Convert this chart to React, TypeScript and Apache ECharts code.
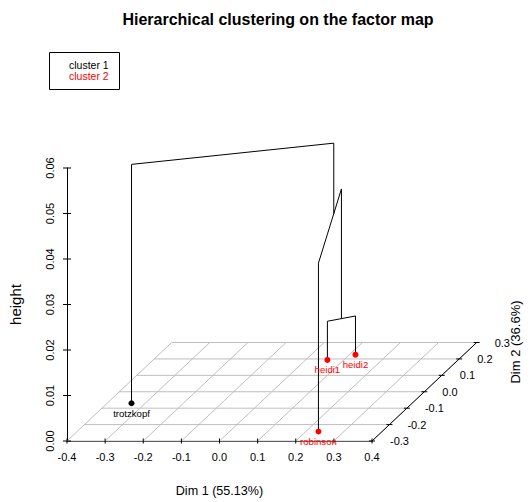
import React, { useEffect, useRef } from "react";
import * as echarts from "echarts";

// ---- data ----
const dim1Ticks = [-0.4, -0.3, -0.2, -0.1, 0.0, 0.1, 0.2, 0.3, 0.4];
const dim2Ticks = [-0.3, -0.2, -0.1, 0.0, 0.1, 0.2, 0.3];
const heightTicks = [0, 0.01, 0.02, 0.03, 0.04, 0.05, 0.06];

const individuals = ["trotzkopf", "heidi1", "heidi2", "robinson"];
const dim1 = [-0.336, 0.057, 0.116, 0.233];
const dim2 = [-0.07, 0.194, 0.226, -0.242];
const cluster = [1, 2, 2, 2];

// hclust-like merges: negative = leaf (1-based), positive = earlier merge
const mergeLeft = [-2, -4, -1];
const mergeRight = [-3, 1, 2];
const mergeHeight = [0.0085, 0.037, 0.0525];

const clusterNames = ["cluster 1", "cluster 2"];
const clusterColors = ["#000000", "#FF0000"];

const FONT = "Liberation Sans, Arial, Helvetica, sans-serif";

// oblique projection of the Dim 2 axis onto the (Dim 1, height) plane
const K1 = 0.4575; // Dim1 units per Dim2 unit
const K2 = 0.03607; // height units per Dim2 unit
const Y0 = dim2Ticks[0];
const proj = (x: number, y: number, z: number) => [x + (y - Y0) * K1, z + (y - Y0) * K2];

// floor grid segments [x1,y1,z1,x2,y2,z2]
const floorSegs: number[][] = [];
dim2Ticks.forEach((y) => floorSegs.push([dim1Ticks[0], y, 0, dim1Ticks[dim1Ticks.length - 1], y, 0]));
dim1Ticks.forEach((x) => floorSegs.push([x, dim2Ticks[0], 0, x, dim2Ticks[dim2Ticks.length - 1], 0]));

const dim2AxisSeg = [[dim1Ticks[dim1Ticks.length - 1], dim2Ticks[0], 0, dim1Ticks[dim1Ticks.length - 1], dim2Ticks[dim2Ticks.length - 1], 0]];

// dendrogram segments
type Node = { x: number; y: number; h: number; n: number };
const nodes: Node[] = [];
const getNode = (id: number): Node =>
  id < 0 ? { x: dim1[-id - 1], y: dim2[-id - 1], h: 0, n: 1 } : nodes[id - 1];
const treeSegs: number[][] = [];
mergeLeft.forEach((l, i) => {
  const a = getNode(l);
  const b = getNode(mergeRight[i]);
  const h = mergeHeight[i];
  treeSegs.push([a.x, a.y, a.h, a.x, a.y, h]);
  treeSegs.push([b.x, b.y, b.h, b.x, b.y, h]);
  treeSegs.push([a.x, a.y, h, b.x, b.y, h]);
  const n = a.n + b.n;
  nodes.push({ x: (a.x * a.n + b.x * b.n) / n, y: (a.y * a.n + b.y * b.n) / n, h, n });
});

const segRenderer = (color: string) => (params: any, api: any) => {
  const p1 = api.coord(proj(api.value(0), api.value(1), api.value(2)));
  const p2 = api.coord(proj(api.value(3), api.value(4), api.value(5)));
  return {
    type: "line",
    shape: { x1: p1[0], y1: p1[1], x2: p2[0], y2: p2[1] },
    style: { stroke: color, lineWidth: 1 },
  };
};

export default function App() {
  const ref = useRef<HTMLDivElement>(null);
  useEffect(() => {
    if (!ref.current) return;
    const chart = echarts.init(ref.current, null, { renderer: "svg" });
    const option: any = {
      animation: false,
      backgroundColor: "#ffffff",
      title: {
        text: "Hierarchical clustering on the factor map",
        left: 278,
        top: 11,
        padding: 0,
        textAlign: "center",
        textStyle: { fontSize: 16, fontWeight: "bold", fontFamily: FONT, color: "#000" },
      },
      grid: { left: 67, right: 159, top: 168, bottom: 55 },
      xAxis: {
        type: "value",
        min: -0.4,
        max: 0.4,
        interval: 0.1,
        axisLine: { show: true, onZero: false, lineStyle: { color: "#000", width: 1 } },
        axisTick: { show: false },
        splitLine: { show: false },
        axisLabel: {
          color: "#000",
          fontSize: 11,
          fontFamily: FONT,
          margin: 10,
          formatter: (v: number) => v.toFixed(1),
        },
        name: "Dim 1 (55.13%)",
        nameLocation: "middle",
        nameGap: 43,
        nameTextStyle: { color: "#000", fontSize: 12.6, fontFamily: FONT },
      },
      yAxis: {
        type: "value",
        min: 0,
        max: 0.06,
        interval: 0.01,
        axisLine: { show: true, onZero: false, lineStyle: { color: "#000", width: 1 } },
        axisTick: { show: false },
        splitLine: { show: false },
        axisLabel: {
          color: "#000",
          fontSize: 11,
          fontFamily: FONT,
          rotate: 90,
          margin: 12,
          formatter: (v: number) => v.toFixed(2),
        },
        name: "height",
        nameLocation: "middle",
        nameRotate: 90,
        nameGap: 44,
        nameTextStyle: { color: "#000", fontSize: 15, fontFamily: FONT },
      },
      graphic: [
        {
          type: "rect",
          shape: { x: 49.5, y: 52.5, width: 70, height: 37 },
          style: { fill: "#fff", stroke: "#000", lineWidth: 1 },
        },
        {
          type: "text",
          x: 69,
          y: 64.5,
          style: { text: clusterNames[0], fill: clusterColors[0], font: `10.5px ${FONT}`, textVerticalAlign: "middle", verticalAlign: "middle" },
        },
        {
          type: "text",
          x: 69,
          y: 76,
          style: { text: clusterNames[1], fill: clusterColors[1], font: `10.5px ${FONT}`, textVerticalAlign: "middle", verticalAlign: "middle" },
        },
        {
          type: "text",
          x: 515,
          y: 342,
          rotation: Math.PI / 2,
          style: {
            text: "Dim 2 (36.6%)",
            fill: "#000",
            font: `13px ${FONT}`,
            textAlign: "center",
            align: "center",
            textVerticalAlign: "middle",
            verticalAlign: "middle",
          },
        },
      ],
      series: [
        {
          type: "custom",
          name: "floor",
          silent: true,
          clip: false,
          data: floorSegs,
          renderItem: segRenderer("#BEBEBE"),
          z: 1,
        },
        {
          type: "custom",
          name: "dim2axis",
          silent: true,
          clip: false,
          data: dim2AxisSeg,
          renderItem: segRenderer("#000000"),
          z: 2,
        },
        {
          type: "custom",
          name: "dim2ticks",
          silent: true,
          clip: false,
          data: dim2Ticks,
          renderItem: (params: any, api: any) => {
            const v = api.value(0);
            const p = api.coord(proj(dim1Ticks[dim1Ticks.length - 1], v, 0));
            return {
              type: "group",
              children: [
                {
                  type: "line",
                  shape: { x1: p[0] - 3, y1: p[1], x2: p[0] + 3, y2: p[1] },
                  style: { stroke: "#000", lineWidth: 1 },
                },
                {
                  type: "text",
                  x: p[0] + 18,
                  y: p[1],
                  style: {
                    text: v.toFixed(1),
                    fill: "#000",
                    font: `11px ${FONT}`,
                    textAlign: "left",
                    align: "left",
                    textVerticalAlign: "middle",
                    verticalAlign: "middle",
                  },
                },
              ],
            };
          },
          z: 2,
        },
        {
          type: "custom",
          name: "xticks",
          silent: true,
          clip: false,
          data: dim1Ticks,
          renderItem: (params: any, api: any) => {
            const p = api.coord([api.value(0), 0]);
            return {
              type: "line",
              shape: { x1: p[0], y1: p[1] - 2.5, x2: p[0], y2: p[1] + 2.5 },
              style: { stroke: "#000", lineWidth: 1 },
            };
          },
          z: 2,
        },
        {
          type: "custom",
          name: "zticks",
          silent: true,
          clip: false,
          data: heightTicks.map((h) => [dim1Ticks[0], h]),
          renderItem: (params: any, api: any) => {
            const p = api.coord([api.value(0), api.value(1)]);
            return {
              type: "line",
              shape: { x1: p[0] - 4, y1: p[1], x2: p[0] + 4, y2: p[1] },
              style: { stroke: "#000", lineWidth: 1 },
            };
          },
          z: 2,
        },
        {
          type: "custom",
          name: "tree",
          silent: true,
          clip: false,
          data: treeSegs,
          renderItem: segRenderer("#000000"),
          z: 3,
        },
        ...clusterNames.map((cn, ci) => ({
          type: "scatter",
          name: cn,
          silent: true,
          clip: false,
          symbol: "circle",
          symbolSize: 6,
          itemStyle: { color: clusterColors[ci], opacity: 1 },
          label: {
            show: true,
            position: "bottom",
            distance: 2,
            color: clusterColors[ci],
            fontSize: 9.6,
            fontFamily: FONT,
            formatter: (p: any) => p.data[2],
          },
          data: individuals
            .map((name, i) => ({ name, i }))
            .filter(({ i }) => cluster[i] === ci + 1)
            .map(({ name, i }) => [...proj(dim1[i], dim2[i], 0), name]),
          z: 4,
        })),
      ],
    };
    chart.setOption(option);
    return () => chart.dispose();
  }, []);
  return (
    <div
      ref={ref}
      style={{ position: "fixed", left: 0, top: 0, width: 531, height: 502, background: "#fff" }}
    />
  );
}
